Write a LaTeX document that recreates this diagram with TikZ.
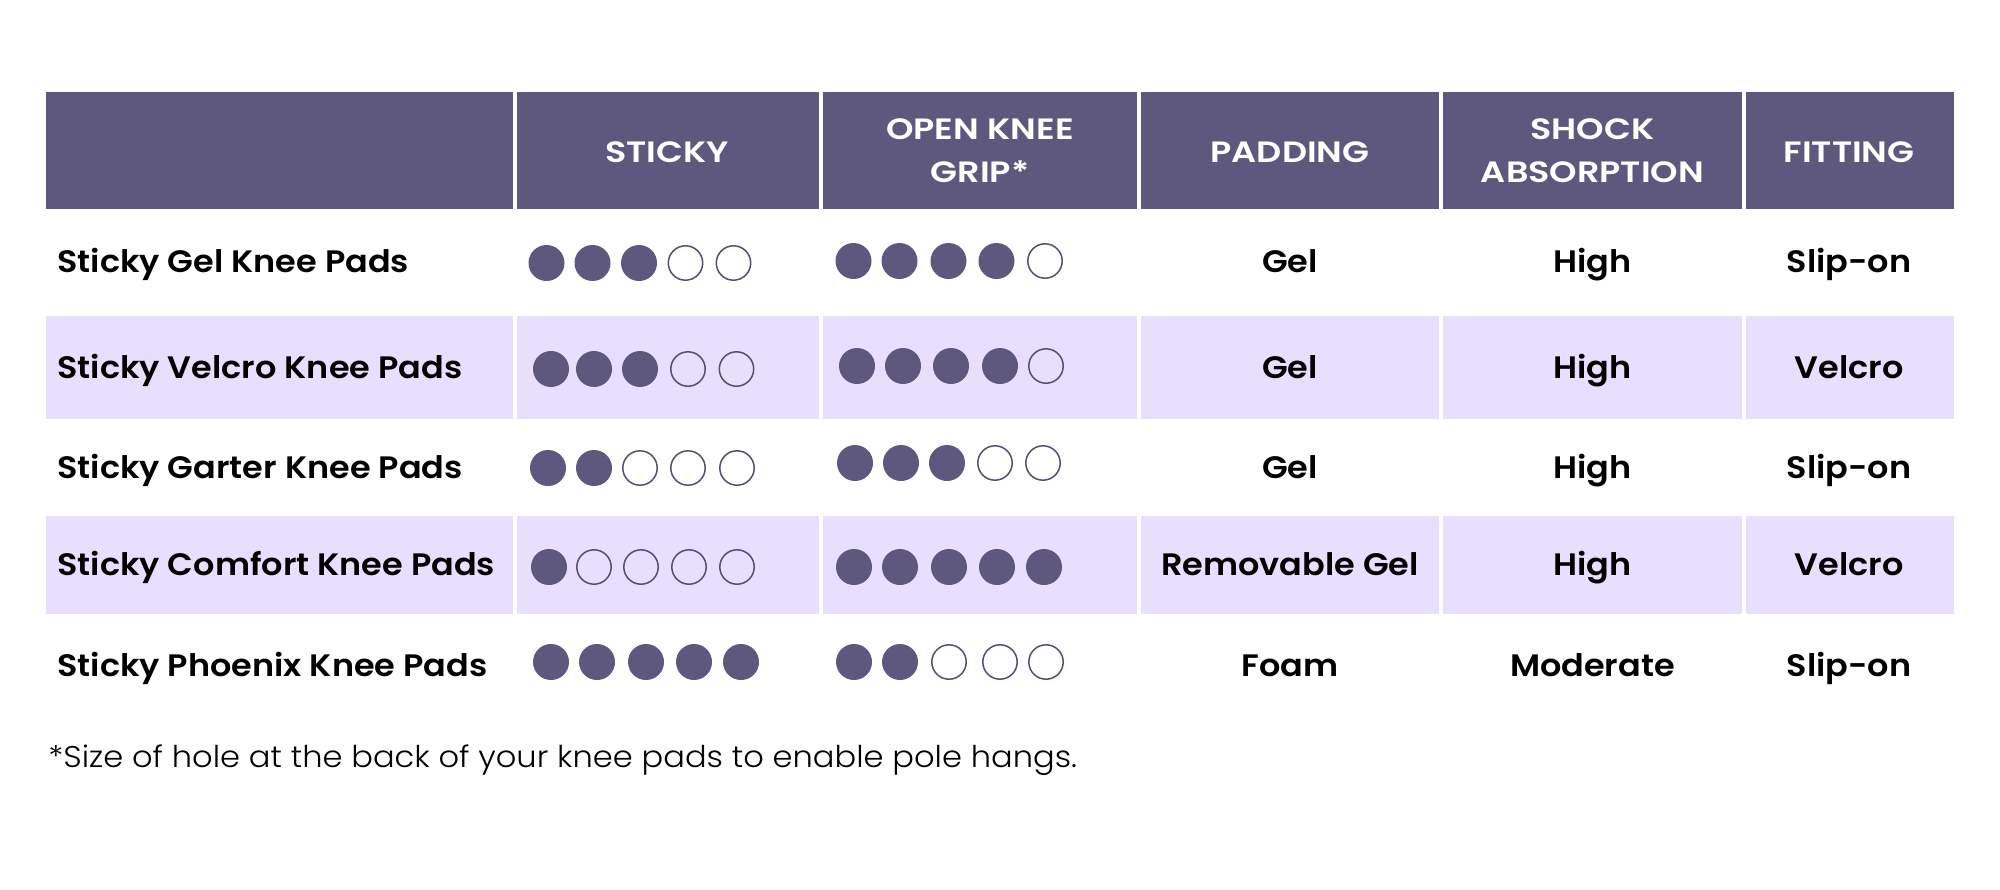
\documentclass[tikz,border=0pt]{standalone}
\usepackage{fontspec}
\setmainfont{Poppins}
\IfFontExistsTF{Poppins SemiBold}
  {\newfontfamily\bodyfont{Poppins SemiBold}[FakeStretch=1.08]
   \newfontfamily\hdrfont{Poppins SemiBold}[FakeStretch=1.19]}
  {\newfontfamily\bodyfont{Poppins Bold}[FakeStretch=1.05]
   \newfontfamily\hdrfont{Poppins Bold}[FakeStretch=1.16]}
\IfFontExistsTF{Poppins Light}
  {\newfontfamily\footfont{Poppins Light}[FakeStretch=1.07]}
  {\newfontfamily\footfont{Poppins}[FakeStretch=1.06]}
\definecolor{hdr}{RGB}{94,87,126}
\definecolor{lav}{RGB}{232,222,253}
\newcommand\ratingrow[3]{%
  \foreach \cx [count=\ci] in {#3}{%
    \ifnum\ci>#2\relax
      \draw[ring] (\cx,#1) circle[radius=8.6pt];
    \else
      \fill[dot] (\cx,#1) circle[radius=9pt];
    \fi}}
\begin{document}
\begin{tikzpicture}[x=0.5pt,y=-0.5pt,
  hdrcell/.style={fill=hdr},
  lavcell/.style={fill=lav},
  dot/.style={fill=hdr},
  ring/.style={draw=hdr!90!black,line width=0.75pt,fill=none},
  htext/.style={text=white,font=\fontsize{14.7pt}{18pt}\hdrfont,inner sep=0pt,anchor=base},
  btext/.style={text=black,font=\fontsize{15.5pt}{19pt}\bodyfont,inner sep=0pt},
  ctext/.style={btext,anchor=base},
  ltext/.style={btext,anchor=base west},
  foot/.style={text=black,font=\fontsize{15pt}{18pt}\footfont,inner sep=0pt,anchor=base west}]
\useasboundingbox (0,0) rectangle (2000,889);
\fill[white] (0,0) rectangle (2000,889);
% header and lavender rows
\foreach \xa/\xb in {46/512.5,516.5/819,823/1137,1141/1439,1443/1742,1746/1954}{
  \fill[hdrcell] (\xa,92) rectangle (\xb,209);
  \fill[lavcell] (\xa,316) rectangle (\xb,419);
  \fill[lavcell] (\xa,516) rectangle (\xb,614);
}
% header texts
\node[htext] (hSticky) at (667,162) {STICKY};
\node[htext] (hOpenA) at (980,139) {OPEN KNEE};
\node[htext] (hOpenB) at (980,182.5) {GRIP*};
\node[htext] (hPad) at (1290,162) {PADDING};
\node[htext] (hShockA) at (1592.5,139) {SHOCK};
\node[htext] (hShockB) at (1592.5,182.5) {ABSORPTION};
\node[htext] (hFit) at (1849,162) {FITTING};
% row names
\node[ltext] (n1) at (57,272) {Sticky Gel Knee Pads};
\node[ltext] (n2) at (57,378) {Sticky Velcro Knee Pads};
\node[ltext] (n3) at (57,478) {Sticky Garter Knee Pads};
\node[ltext] (n4) at (57,575) {Sticky Comfort Knee Pads};
\node[ltext] (n5) at (57,676) {Sticky Phoenix Knee Pads};
% padding
\node[ctext] (p1) at (1290,272) {Gel};
\node[ctext] (p2) at (1290,378) {Gel};
\node[ctext] (p3) at (1290,478) {Gel};
\node[ctext] (p4) at (1290,575) {Removable Gel};
\node[ctext] (p5) at (1290,676) {Foam};
% shock
\node[ctext] (s1) at (1592.5,272) {High};
\node[ctext] (s2) at (1592.5,378) {High};
\node[ctext] (s3) at (1592.5,478) {High};
\node[ctext] (s4) at (1592.5,575) {High};
\node[ctext] (s5) at (1592.5,676) {Moderate};
% fitting
\node[ctext] (f1) at (1849,272) {Slip-on};
\node[ctext] (f2) at (1849,378) {Velcro};
\node[ctext] (f3) at (1849,478) {Slip-on};
\node[ctext] (f4) at (1849,575) {Velcro};
\node[ctext] (f5) at (1849,676) {Slip-on};
% ratings
\ratingrow{263}{3}{546.5,592.5,639,685.5,733.5}
\ratingrow{261}{4}{853.5,899.5,948.5,996.5,1045}
\ratingrow{369}{3}{551,594,640,688,736.5}
\ratingrow{366}{4}{857,903,951,1000,1046}
\ratingrow{468}{2}{548,594,640,688,737}
\ratingrow{463}{3}{855,901,947,995,1043}
\ratingrow{567}{1}{549,594,641,689,737}
\ratingrow{567}{5}{854,900,949,997,1044}
\ratingrow{662}{5}{551,597,646,694,741}
\ratingrow{662}{2}{854,900,949,1000,1046}
% footnote
\node[foot] (fn) at (48,767) {*Size of hole at the back of your knee pads to enable pole hangs.};
\end{tikzpicture}
\end{document}
